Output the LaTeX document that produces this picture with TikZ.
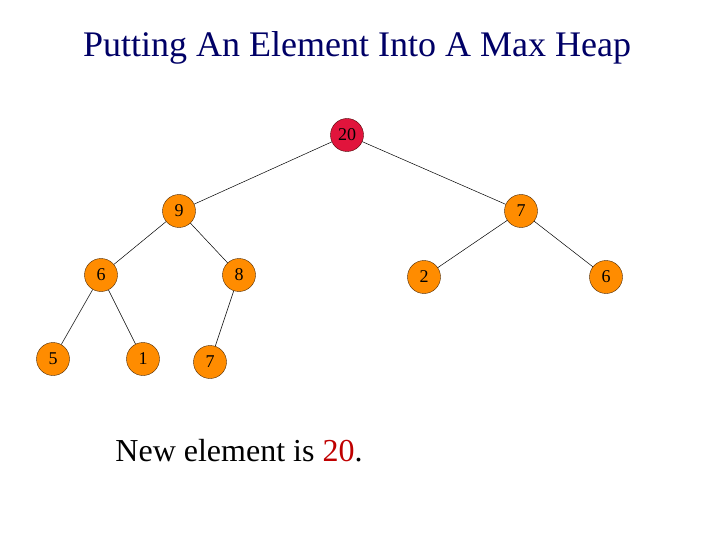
\documentclass[tikz,border=0pt]{standalone}
\usepackage{fontspec}
\setmainfont{Liberation Serif}
\begin{document}
\begin{tikzpicture}[x=1pt,y=-1pt,
  hn/.style={circle,draw=black!70!orange,fill=orange!90!yellow,minimum size=33pt,inner sep=0pt,font=\fontsize{18}{18}\selectfont},
  rn/.style={hn,fill={rgb,255:red,225;green,20;blue,60},draw=black!70!red},
  ed/.style={draw=black,line width=0.5pt}]
\useasboundingbox (0,0) rectangle (720,540);
\node[font=\fontsize{36}{36}\selectfont,text=blue!40!black] (title) at (357,48) {Putting An Element Into A Max Heap};
\node[rn] (n20) at (347,135) {20};
\node[hn] (n9) at (179,211) {9};
\node[hn] (n7) at (521,211) {7};
\node[hn] (n6) at (101,275) {6};
\node[hn] (n8) at (239,275) {8};
\node[hn] (n2) at (424,277) {2};
\node[hn] (n6b) at (606,277) {6};
\node[hn] (n5) at (53,359) {5};
\node[hn] (n1) at (143,359) {1};
\node[hn] (n7b) at (210,362) {7};
\draw[ed] (n20)--(n9); \draw[ed] (n20)--(n7);
\draw[ed] (n9)--(n6); \draw[ed] (n9)--(n8);
\draw[ed] (n7)--(n2); \draw[ed] (n7)--(n6b);
\draw[ed] (n6)--(n5); \draw[ed] (n6)--(n1);
\draw[ed] (n8)--(n7b);
\node[font=\fontsize{32}{32}\selectfont] (msg) at (239,451) {New element is \textcolor{red!75!black}{20}.};
\end{tikzpicture}
\end{document}
